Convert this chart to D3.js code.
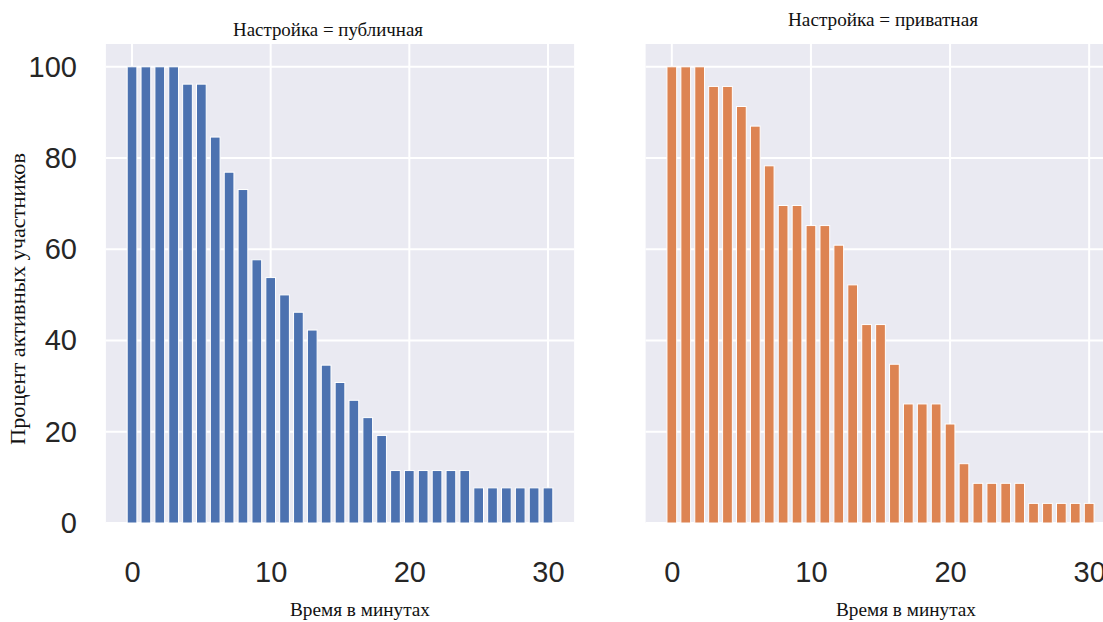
<!DOCTYPE html>
<html>
<head>
<meta charset="utf-8">
<script src="https://cdn.jsdelivr.net/npm/d3@7"></script>
<style>
	body { margin: 0; background: #fff; }
	svg { display: block; }
</style>
</head>
<body>
<div id="chart"></div>
<script>
// data
const minutes = [0, 1, 2, 3, 4, 5, 6, 7, 8, 9, 10, 11, 12, 13, 14, 15, 16, 17, 18, 19, 20, 21, 22, 23, 24, 25, 26, 27, 28, 29, 30];
const publicShare = [100, 100, 100, 100, 96.2, 96.2, 84.6, 76.9, 73.1, 57.7, 53.8, 50, 46.2, 42.3, 34.6, 30.8, 26.9, 23.1, 19.2, 11.5, 11.5, 11.5, 11.5, 11.5, 11.5, 7.7, 7.7, 7.7, 7.7, 7.7, 7.7];
const privateShare = [100, 100, 100, 95.7, 95.7, 91.3, 87, 78.3, 69.6, 69.6, 65.2, 65.2, 60.9, 52.2, 43.5, 43.5, 34.8, 26.1, 26.1, 26.1, 21.7, 13, 8.7, 8.7, 8.7, 8.7, 4.3, 4.3, 4.3, 4.3, 4.3];
const xTicks = [0, 10, 20, 30];
const yTicks = [0, 20, 40, 60, 80, 100];

const width = 1103;
const height = 622;
const barWidth = 0.7;
const serif = "'Liberation Serif', 'Times New Roman', serif";
const sans = "'Liberation Sans', Arial, sans-serif";

const panels = [
	{ title: "Настройка = публичная", values: publicShare, color: "#4c72b0", x0: 105.9, x1: 574.1, titleX: 328, titleY: 36, showY: true, xlabelX: 360 },
	{ title: "Настройка = приватная", values: privateShare, color: "#dd8452", x0: 645.6, x1: 1115.4, titleX: 883, titleY: 26, showY: false, xlabelX: 906 },
];

const svg = d3.select("#chart").append("svg").attr("width", width).attr("height", height);

const y = d3.scaleLinear().domain([0, 105]).range([523, 44]);

panels.forEach((p) => {
	const x = d3.scaleLinear().domain([-1.885, 31.885]).range([p.x0, p.x1]);
	const g = svg.append("g");

	g.append("rect")
		.attr("x", p.x0)
		.attr("y", y(105))
		.attr("width", p.x1 - p.x0)
		.attr("height", y(0) - y(105))
		.attr("fill", "#eaeaf2");

	// grid
	g.selectAll(".hgrid")
		.data(yTicks)
		.join("line")
		.attr("x1", p.x0)
		.attr("x2", p.x1)
		.attr("y1", (d) => y(d))
		.attr("y2", (d) => y(d))
		.attr("stroke", "#fff")
		.attr("stroke-width", 2);
	g.selectAll(".vgrid")
		.data(xTicks)
		.join("line")
		.attr("x1", (d) => x(d))
		.attr("x2", (d) => x(d))
		.attr("y1", y(105))
		.attr("y2", y(0))
		.attr("stroke", "#fff")
		.attr("stroke-width", 2);

	// bars
	g.selectAll(".bar")
		.data(minutes)
		.join("rect")
		.attr("x", (d) => x(d - barWidth / 2))
		.attr("width", (d) => x(barWidth) - x(0))
		.attr("y", (d, i) => y(p.values[i]))
		.attr("height", (d, i) => y(0) - y(p.values[i]))
		.attr("fill", p.color)
		.attr("stroke", "#fff")
		.attr("stroke-width", 1);

	// x axis
	const xAxis = g.append("g")
		.attr("transform", `translate(0, ${y(0)})`)
		.call(d3.axisBottom(x).tickValues(xTicks).tickSize(0).tickPadding(38).tickFormat(d3.format("d")));
	xAxis.select(".domain").remove();
	xAxis.selectAll("text")
		.attr("font-family", sans)
		.attr("font-size", 29)
		.attr("fill", "#262626");

	if (p.showY) {
		const yAxis = g.append("g")
			.attr("transform", `translate(${p.x0}, 0)`)
			.call(d3.axisLeft(y).tickValues(yTicks).tickSize(0).tickPadding(29));
		yAxis.select(".domain").remove();
		yAxis.selectAll("text")
			.attr("font-family", sans)
			.attr("font-size", 29)
			.attr("fill", "#262626");
	}

	g.append("text")
		.attr("x", p.titleX)
		.attr("y", p.titleY)
		.attr("text-anchor", "middle")
		.attr("font-family", serif)
		.attr("font-size", 19)
		.attr("textLength", 190)
		.attr("lengthAdjust", "spacingAndGlyphs")
		.attr("fill", "#111")
		.text(p.title);

	g.append("text")
		.attr("x", p.xlabelX)
		.attr("y", 616)
		.attr("text-anchor", "middle")
		.attr("font-family", serif)
		.attr("font-size", 19)
		.attr("textLength", 140)
		.attr("lengthAdjust", "spacingAndGlyphs")
		.attr("fill", "#111")
		.text("Время в минутах");
});

svg.append("text")
	.attr("transform", "translate(25, 299) rotate(-90)")
	.attr("text-anchor", "middle")
	.attr("font-family", serif)
	.attr("font-size", 20)
	.attr("textLength", 292)
	.attr("lengthAdjust", "spacingAndGlyphs")
	.attr("fill", "#111")
	.text("Процент активных участников");
</script>
</body>
</html>
